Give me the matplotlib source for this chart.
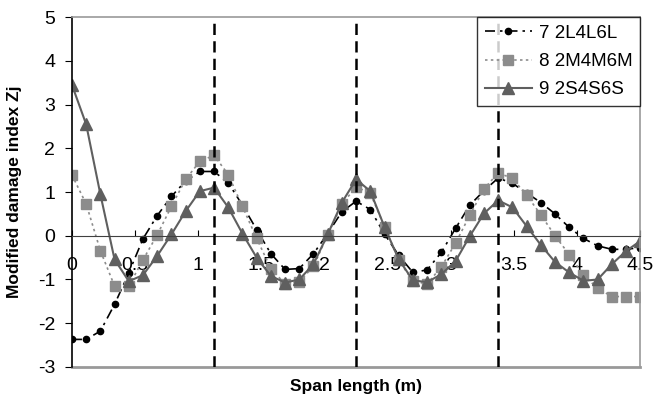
import numpy as np
import matplotlib
matplotlib.use("Agg")
import matplotlib.pyplot as plt

plt.rcParams['font.family'] = ['Liberation Sans', 'DejaVu Sans']
plt.rcParams['axes.unicode_minus'] = False

# span positions (m), 41 stations
x = [i * 0.1125 for i in range(41)]

z7 = [-2.37, -2.37, -2.18, -1.57, -0.85, -0.07, 0.46, 0.9, 1.25, 1.47,
      1.47, 1.21, 0.7, 0.14, -0.41, -0.77, -0.75, -0.41, 0.05, 0.55,
      0.79, 0.6, 0.04, -0.45, -0.84, -0.78, -0.38, 0.17, 0.7, 1.03,
      1.32, 1.2, 0.98, 0.76, 0.5, 0.19, -0.06, -0.23, -0.31, -0.31, -0.27]
z8 = [1.39, 0.73, -0.34, -1.15, -1.15, -0.55, 0.02, 0.67, 1.29, 1.7,
      1.84, 1.4, 0.67, -0.06, -0.75, -1.1, -1.05, -0.7, 0.02, 0.72,
      1.12, 0.97, 0.21, -0.56, -1.04, -1.1, -0.71, -0.17, 0.47, 1.07,
      1.44, 1.31, 0.93, 0.48, 0.0, -0.43, -0.9, -1.2, -1.39, -1.39, -1.39]
z9 = [3.45, 2.55, 0.95, -0.54, -1.04, -0.9, -0.46, 0.03, 0.56, 1.02,
      1.1, 0.65, 0.05, -0.5, -0.92, -1.07, -1.0, -0.65, 0.03, 0.76,
      1.29, 1.02, 0.2, -0.54, -1.02, -1.06, -0.88, -0.58, -0.01, 0.51,
      0.81, 0.65, 0.22, -0.21, -0.6, -0.84, -1.03, -1.0, -0.65, -0.35, -0.12]
names = ['7 2L4L6L', '8 2M4M6M', '9 2S4S6S']
vlines = [1.125, 2.25, 3.375]

fig = plt.figure(figsize=(6.54, 3.98), dpi=100)
ax = fig.add_axes([0.110, 0.078, 0.869, 0.879])

ax.plot(x, z7, color='black', linestyle=(0, (6, 3, 1.5, 3)), linewidth=1.2,
        marker='o', markersize=4.5, label=names[0])
ax.plot(x, z8, color='#8c8c8c', linestyle=(0, (1.5, 2)), linewidth=1.2,
        marker='s', markersize=7, label=names[1])
ax.plot(x, z9, color='#5f5f5f', linestyle='-', linewidth=1.5,
        marker='^', markersize=8, label=names[2])

for v in vlines:
    ax.axvline(v, color='black', linestyle=(0, (4.5, 2.5)), linewidth=1.8, zorder=5)

ax.set_xlim(0, 4.5)
ax.set_ylim(-3, 5)
ax.set_xticks(np.arange(0, 4.51, 0.5))
ax.set_xticklabels(['0', '0.5', '1', '1.5', '2', '2.5', '3', '3.5', '4', '4.5'])
ax.set_yticks(range(-3, 6))

# x axis crosses at zero
ax.spines['bottom'].set_position(('data', 0))
ax.spines['bottom'].set_color('#404040')
ax.spines['left'].set_color('black')
ax.spines['left'].set_linewidth(1.2)
for s in ['top', 'right']:
    ax.spines[s].set_color('#999999')
    ax.spines[s].set_linewidth(1.2)
ax.axhline(-3, color='#999999', linewidth=2.0, clip_on=False)

ax.tick_params(axis='x', direction='in', length=4, labelsize=14, pad=15)
ax.tick_params(axis='y', direction='out', length=5, labelsize=14, pad=7)

ax.set_ylabel('Modified damage index Zj', fontsize=12.5, fontweight='bold')
ax.set_xlabel('Span length (m)', fontsize=12.5, fontweight='bold')
ax.xaxis.set_label_coords(0.5, -0.035)
ax.yaxis.set_label_coords(-0.088, 0.5)

leg = ax.legend(loc='upper right', bbox_to_anchor=(1.0, 1.0), fontsize=13.5,
                frameon=True, fancybox=False, edgecolor='black',
                borderaxespad=0, handlelength=2.5, labelspacing=0.6,
                handletextpad=0.4)
leg.get_frame().set_linewidth(1.0)

fig.savefig('out.png', dpi=100)
